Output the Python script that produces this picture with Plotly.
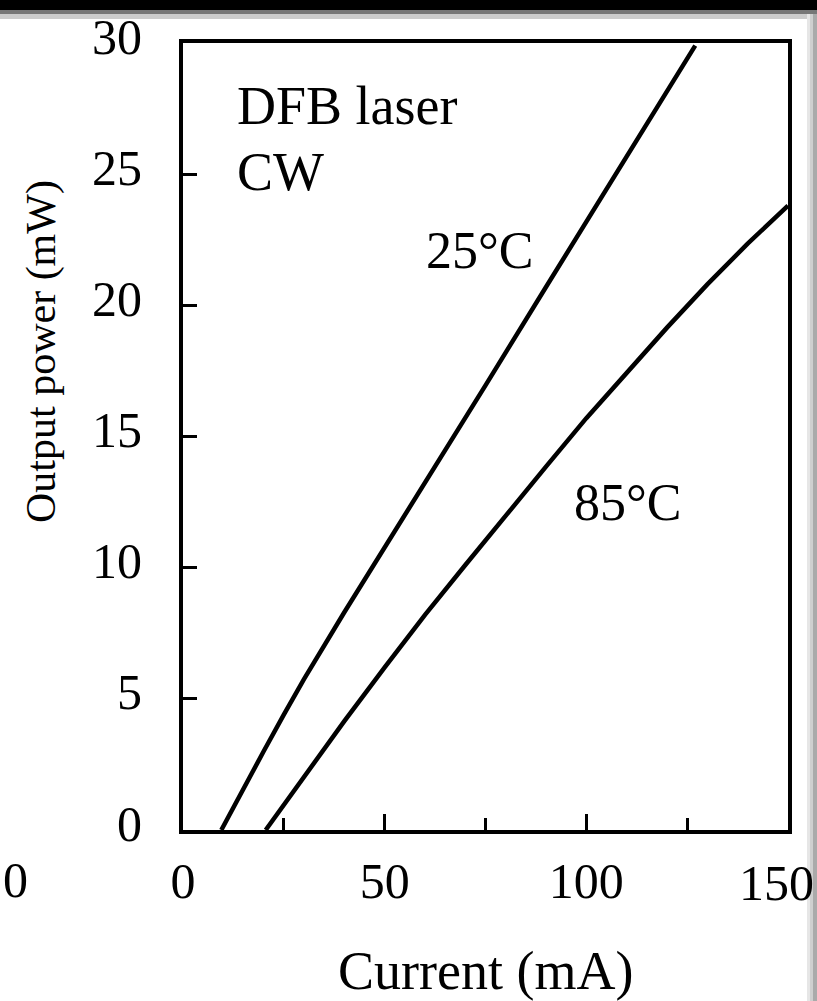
import plotly.graph_objects as go

# readings from the figure (current in mA, output power in mW)
current_25 = [9.5, 15, 20, 25, 30, 40, 50, 60, 75, 90, 100, 116, 127]
power_25 = [0, 1.6, 3.0, 4.4, 5.75, 8.3, 10.75, 13.2, 16.95, 20.7, 23.2, 27.15, 29.9]

current_85 = [20.5, 30, 40, 50, 60, 70, 80, 90, 100, 110, 120, 130, 140, 150]
power_85 = [0, 2.05, 4.15, 6.2, 8.2, 10.1, 12.0, 13.85, 15.7, 17.45, 19.15, 20.8, 22.35, 23.8]

x_ticks = [0, 50, 100, 150]
x_labels = ["0", "50", "100", ""]  # "150" is placed by hand, it sits left of its tick
y_ticks = [0, 5, 10, 15, 20, 25, 30]

W, H = 817, 1001
L, R, T, B = 183, 29, 43, 171
FONT = "Liberation Serif"


def px(x):
    return (x - L) / (W - L - R)


def py(y):
    return (H - B - y) / (H - T - B)


fig = go.Figure()
for cur, pw in [(current_25, power_25), (current_85, power_85)]:
    fig.add_trace(
        go.Scatter(
            x=cur,
            y=pw,
            mode="lines",
            line=dict(color="black", width=4.5),
            hoverinfo="skip",
            showlegend=False,
        )
    )

axis_common = dict(
    showgrid=False,
    zeroline=False,
    showline=True,
    linecolor="black",
    linewidth=4,
    mirror=True,
    ticks="inside",
    tickcolor="black",
    tickwidth=3,
    ticklabeloverflow="allow",
    automargin=False,
)

fig.update_xaxes(
    range=[0, 150],
    tickvals=x_ticks,
    ticktext=x_labels,
    ticklen=16,
    tickfont=dict(family=FONT, size=50, color="black"),
    ticklabelstandoff=4,
    minor=dict(ticks="inside", tickvals=[25, 75, 125], ticklen=12, tickwidth=3, tickcolor="black"),
    **axis_common,
)
fig.update_yaxes(
    range=[0, 30],
    tickvals=y_ticks,
    ticklen=14,
    tickfont=dict(family=FONT, size=50, color="black"),
    ticklabelstandoff=27,
    ticklabelshift=-7,
    **axis_common,
)

annotations = [
    dict(x=13.0, y=27.6, xref="x", yref="y", text="DFB laser", xanchor="left", size=54),
    dict(x=13.0, y=25.1, xref="x", yref="y", text="CW", xanchor="left", size=54),
    dict(x=73.4, y=22.1, xref="x", yref="y", text="25°C", xanchor="center", size=52),
    dict(x=110.3, y=12.5, xref="x", yref="y", text="85°C", xanchor="center", size=52),
    dict(x=px(776), y=py(883), xref="paper", yref="paper", text="150", xanchor="center", size=50),
    dict(x=px(485), y=py(971), xref="paper", yref="paper", text="Current (mA)", xanchor="center", size=54),
    dict(x=px(15), y=py(880), xref="paper", yref="paper", text="0", xanchor="center", size=50),
]
for a in annotations:
    fig.add_annotation(
        x=a["x"], y=a["y"], xref=a["xref"], yref=a["yref"], text=a["text"],
        xanchor=a["xanchor"], yanchor="middle", showarrow=False,
        font=dict(family=FONT, size=a["size"], color="black"),
    )
fig.add_annotation(
    x=px(42), y=py(352), xref="paper", yref="paper", text="Output power (mW)",
    textangle=-90, showarrow=False, xanchor="center", yanchor="middle",
    font=dict(family=FONT, size=42, color="black"),
)

# scan frame: dark band on top, grey fade on the right edge
frame = [
    (0, 0, W, 10, "black"),
    (0, 10, W, 14, "#777777"),
    (0, 14, W, 19, "#cccccc"),
    (807, 14, 810, H, "#e6e6e6"),
    (810, 14, 813, H, "#cfcfcf"),
    (813, 14, W, H, "#aaaaaa"),
]
for x0, y0, x1, y1, c in frame:
    fig.add_shape(
        type="rect", xref="paper", yref="paper",
        x0=px(x0), x1=px(x1), y0=py(y1), y1=py(y0),
        fillcolor=c, line=dict(width=0), layer="above",
    )

fig.update_layout(
    width=W,
    height=H,
    margin=dict(l=L, r=R, t=T, b=B, autoexpand=False),
    paper_bgcolor="white",
    plot_bgcolor="white",
)

fig.write_html(
    "out.html",
    config={"responsive": False, "displayModeBar": False},
    post_script="document.body.style.margin='0';document.body.style.overflow='hidden';",
)
